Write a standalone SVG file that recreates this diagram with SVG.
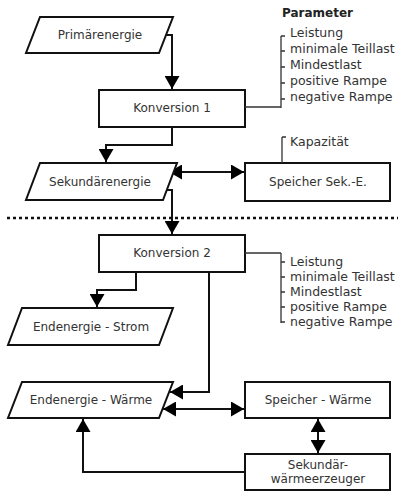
<svg xmlns="http://www.w3.org/2000/svg" width="398" height="492" viewBox="0 0 398 492">
<style>
.n{fill:#fff;stroke:#111;stroke-width:2}
.t{font-family:"DejaVu Sans",sans-serif;font-size:12px;fill:#333;text-anchor:middle}
.p{font-family:"DejaVu Sans",sans-serif;font-size:12.5px;fill:#333}
.c{fill:none;stroke:#111;stroke-width:2}
.b{fill:none;stroke:#333;stroke-width:1.3}
</style>
<defs>
<marker id="a" markerUnits="userSpaceOnUse" markerWidth="15" markerHeight="15" refX="13" refY="7.5" orient="auto-start-reverse" viewBox="0 0 15 15">
<path d="M0,0 L13,7.5 L0,15 z" fill="#000"/>
</marker>
</defs>
<rect width="398" height="492" fill="#fff"/>
<g id="connectors">
<path class="c" d="M163,35 H172 V89" marker-end="url(#a)"/>
<path class="c" d="M172,127 V145 H106 V162" marker-end="url(#a)"/>
<path class="c" d="M169,172 H244" marker-start="url(#a)" marker-end="url(#a)"/>
<path class="c" d="M163,190 H172 V234" marker-end="url(#a)"/>
<path class="c" d="M136,272 V290 H97 V307" marker-end="url(#a)"/>
<path class="c" d="M209,272 V392 H170" marker-end="url(#a)"/>
<path class="c" d="M163,409 H244" marker-start="url(#a)" marker-end="url(#a)"/>
<path class="c" d="M318,419 V453" marker-start="url(#a)" marker-end="url(#a)"/>
<path class="c" d="M245,472 H83 V419" marker-end="url(#a)"/>
<line x1="7" y1="218" x2="398" y2="218" stroke="#111" stroke-width="2.5" stroke-dasharray="3 3"/>
</g>
<g id="primaerenergie">
<polygon class="n" points="40,17 173,17 159,53 26,53"/>
<text class="t" x="100" y="39">Primärenergie</text>
</g>
<g id="konversion1">
<rect class="n" x="99" y="90" width="146" height="37"/>
<text class="t" x="172" y="112">Konversion 1</text>
</g>
<g id="parameter1">
<text x="282" y="17" font-family="DejaVu Sans, sans-serif" font-size="12px" font-weight="bold" fill="#222">Parameter</text>
<path class="b" d="M245,107 H281 M281,36 V108 M281,36 H285 M281,51 H285 M281,67 H285 M281,83 H285 M281,99 H285"/>
<text class="p" x="290" y="37">Leistung</text>
<text class="p" x="290" y="53">minimale Teillast</text>
<text class="p" x="290" y="69">Mindestlast</text>
<text class="p" x="290" y="85">positive Rampe</text>
<text class="p" x="290" y="101">negative Rampe</text>
</g>
<g id="sekundaerenergie">
<polygon class="n" points="40,163 177,163 163,200 26,200"/>
<text class="t" x="100" y="186">Sekundärenergie</text>
</g>
<g id="speicherSek">
<rect class="n" x="245" y="163" width="145" height="38"/>
<text class="t" x="318" y="186">Speicher Sek.-E.</text>
<path class="b" d="M282,137 H286 M282,137 V163"/>
<text class="p" x="290" y="146">Kapazität</text>
</g>
<g id="konversion2">
<rect class="n" x="99" y="235" width="146" height="37"/>
<text class="t" x="172" y="257">Konversion 2</text>
</g>
<g id="parameter2">
<path class="b" d="M245,253 H281 M281,253 V323 M281,262 H285 M281,277 H285 M281,292 H285 M281,307 H285 M281,322 H285"/>
<text class="p" x="290" y="266">Leistung</text>
<text class="p" x="290" y="281">minimale Teillast</text>
<text class="p" x="290" y="296">Mindestlast</text>
<text class="p" x="290" y="311">positive Rampe</text>
<text class="p" x="290" y="326">negative Rampe</text>
</g>
<g id="endenergieStrom">
<polygon class="n" points="22,308 173,308 159,345 8,345"/>
<text class="t" x="91" y="331">Endenergie - Strom</text>
</g>
<g id="endenergieWaerme">
<polygon class="n" points="22,382 173,382 159,418 8,418"/>
<text class="t" x="91" y="404">Endenergie - Wärme</text>
</g>
<g id="speicherWaerme">
<rect class="n" x="245" y="382" width="145" height="36"/>
<text class="t" x="318" y="404">Speicher - Wärme</text>
</g>
<g id="sekundaerwaermeerzeuger">
<rect class="n" x="245" y="454" width="145" height="36"/>
<text class="t" x="318" y="469">Sekundär-</text>
<text class="t" x="318" y="483">wärmeerzeuger</text>
</g>
</svg>
